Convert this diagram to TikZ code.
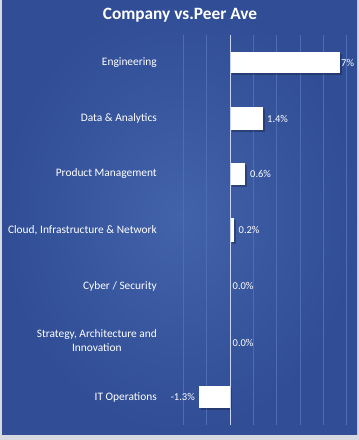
\documentclass[tikz,border=0pt]{standalone}
\usepackage{fontspec}
\setmainfont{Carlito}
\usetikzlibrary{calc}
\definecolor{bgin}{HTML}{4262AA}
\definecolor{bgout}{HTML}{304D95}
\definecolor{gridc}{HTML}{4D6CB1}
\definecolor{axisc}{HTML}{C9D5EE}
\definecolor{framec}{HTML}{D6D9E0}
\tikzset{
  cat/.style={anchor=east, text=white, font=\fontsize{11.4}{13.5}\selectfont, align=center, inner sep=0pt},
  val/.style={anchor=west, text=white, font=\fontsize{10.5}{12}\selectfont, inner sep=0pt},
  bar/.style={fill=white, draw=none},
  shadow/.style={fill=black, fill opacity=0.25, draw=none},
  gridline/.style={draw=gridc, line width=0.5pt},
  axisline/.style={draw=axisc, line width=0.8pt},
}
\begin{document}
\begin{tikzpicture}[x=1pt,y=-1pt]
\useasboundingbox (0,0) rectangle (359,440);
% frame and background
\fill[framec] (0,0) rectangle (359,440);
\shade[inner color=bgin, outer color=bgout] (2,0) rectangle (357,434);
% title
\node[text=white, font=\bfseries\fontsize{17.3}{19}\selectfont, inner sep=0pt] (title) at (180,15) {Company vs.Peer Ave};
% gridlines
\foreach \k in {-2,-1,1,2,3,4,5}{
  \draw[gridline] ({230+23.3*\k},35) -- ({230+23.3*\k},425);
}
% bars with shadows
\fill[shadow] (232,54) rectangle (342,75);
\fill[bar] (230,52) rectangle (340,73);
\fill[shadow] (232,109) rectangle (265,132);
\fill[bar] (230,107) rectangle (263,130);
\fill[shadow] (232,165) rectangle (247,187);
\fill[bar] (230,163) rectangle (245,185);
\fill[shadow] (232,220) rectangle (235.5,244);
\fill[bar] (230,218) rectangle (233.5,242);
\fill[shadow] (201,388) rectangle (232,410);
\fill[bar] (199,386) rectangle (230,408);
% axis
\coordinate (axtop) at (230,35);
\coordinate (axbot) at (230,425);
\draw[axisline] (axtop) -- (axbot);
% category labels
\node[cat] (c1) at (157,62.5) {Engineering};
\node[cat] (c2) at (157,118.5) {Data \& Analytics};
\node[cat] (c3) at (157,174) {Product Management};
\node[cat] (c4) at (157,230) {Cloud, Infrastructure \& Network};
\node[cat] (c5) at (157,286) {Cyber / Security};
\node[cat] (c6) at (157,340.5) {Strategy, Architecture and\\Innovation};
\node[cat] (c7) at (157,397) {IT Operations};
% value labels
\node[val] (v1) at (341,62.5) {7\%};
\node[val] (v2) at (267,118.5) {1.4\%};
\node[val] (v3) at (250,174) {0.6\%};
\node[val] (v4) at (238.5,230) {0.2\%};
\node[val] (v5) at (232.5,286) {0.0\%};
\node[val] (v6) at (232.5,343) {0.0\%};
\node[val, anchor=east] (v7) at (195,397) {-1.3\%};
\end{tikzpicture}
\end{document}
